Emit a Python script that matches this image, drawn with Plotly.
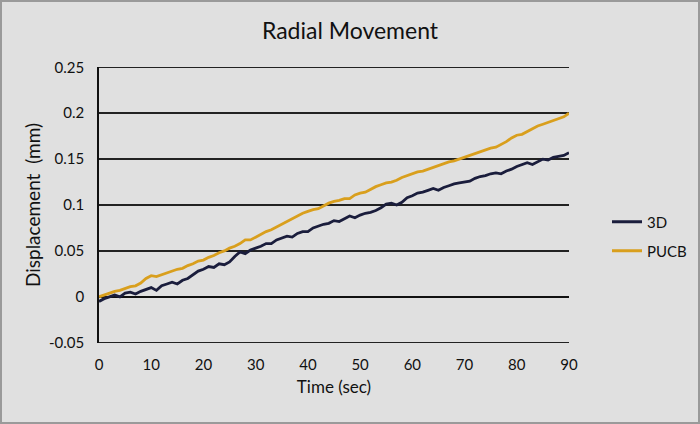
import plotly.graph_objects as go

time_sec = list(range(0, 91))

disp_3d = [-0.005, -0.002, 0.000, 0.002, 0.000, 0.004, 0.005, 0.003, 0.006, 0.008,
           0.010, 0.007, 0.012, 0.014, 0.016, 0.014, 0.018, 0.020, 0.024, 0.028,
           0.030, 0.033, 0.032, 0.036, 0.035, 0.038, 0.044, 0.049, 0.047, 0.051,
           0.053, 0.055, 0.058, 0.058, 0.062, 0.064, 0.066, 0.065, 0.069, 0.071,
           0.071, 0.075, 0.077, 0.079, 0.080, 0.083, 0.082, 0.085, 0.088, 0.086,
           0.089, 0.091, 0.092, 0.094, 0.097, 0.101, 0.102, 0.100, 0.103, 0.108,
           0.110, 0.113, 0.114, 0.116, 0.118, 0.116, 0.119, 0.121, 0.123, 0.124,
           0.125, 0.126, 0.129, 0.131, 0.132, 0.134, 0.135, 0.134, 0.137, 0.139,
           0.142, 0.144, 0.146, 0.144, 0.147, 0.150, 0.149, 0.152, 0.153, 0.154,
           0.157]

disp_pucb = [0.000, 0.002, 0.004, 0.006, 0.007, 0.009, 0.011, 0.012, 0.015, 0.020,
             0.023, 0.022, 0.024, 0.026, 0.028, 0.030, 0.031, 0.034, 0.036, 0.039,
             0.040, 0.043, 0.045, 0.048, 0.050, 0.053, 0.055, 0.058, 0.062, 0.062,
             0.065, 0.068, 0.071, 0.073, 0.076, 0.079, 0.082, 0.085, 0.088, 0.091,
             0.093, 0.095, 0.096, 0.099, 0.102, 0.104, 0.105, 0.107, 0.107, 0.111,
             0.113, 0.114, 0.117, 0.120, 0.122, 0.124, 0.125, 0.127, 0.130, 0.132,
             0.134, 0.136, 0.137, 0.139, 0.141, 0.143, 0.145, 0.147, 0.148, 0.150,
             0.152, 0.154, 0.156, 0.158, 0.160, 0.162, 0.163, 0.166, 0.169, 0.173,
             0.176, 0.177, 0.180, 0.183, 0.186, 0.188, 0.190, 0.192, 0.194, 0.196,
             0.200]

x_ticks = [0, 10, 20, 30, 40, 50, 60, 70, 80, 90]
y_ticks = [-0.05, 0, 0.05, 0.1, 0.15, 0.2, 0.25]
y_tick_labels = ["-0.05", "0", "0.05", "0.1", "0.15", "0.2", "0.25"]

BG = "#e0e0e0"
FONT = "Lato"

fig = go.Figure()
fig.add_trace(go.Scatter(x=time_sec, y=disp_3d, mode="lines", name="3D",
                         line=dict(color="#1a1d3c", width=2.8), legend="legend"))
fig.add_trace(go.Scatter(x=time_sec, y=disp_pucb, mode="lines", name="PUCB",
                         line=dict(color="#d99f1d", width=2.8), legend="legend2"))

W, H = 700, 424
L, R, T, B = 99, 131, 67, 81
pw, ph = W - L - R, H - T - B

def px_x(p):
    return (p - L) / pw

def px_y(p):
    return (H - B - p) / ph

edge_lines = [dict(type="line", xref="paper", yref="y", x0=0, x1=1, y0=v, y1=v,
                   line=dict(color="#222222", width=1.5), layer="below")
              for v in (y_ticks[0], y_ticks[-1])]

fig.update_layout(
    width=W, height=H,
    margin=dict(l=L, r=R, t=T, b=B, autoexpand=False),
    paper_bgcolor=BG, plot_bgcolor=BG,
    showlegend=True,
    font=dict(family=FONT, size=15, color="#111111"),
    title=dict(text="Radial Movement", x=px_x(350), xanchor="center", xref="paper",
               y=1 - 31 / H, yanchor="middle", font=dict(size=23, color="#111111")),
    xaxis=dict(range=[0, 90], tickvals=x_ticks, showgrid=False, zeroline=False,
               showline=False, ticks="", tickfont=dict(size=15), automargin=False,
               ticklabelstandoff=11,
               title=dict(text="Time (sec)", font=dict(size=17), standoff=9)),
    yaxis=dict(range=[-0.0503, 0.2503], tickvals=y_ticks, ticktext=y_tick_labels,
               showgrid=True, gridcolor="#222222", gridwidth=1.5,
               zeroline=True, zerolinecolor="#111111", zerolinewidth=2,
               showline=True, linecolor="#111111", linewidth=1.5,
               ticks="", tickfont=dict(size=15), automargin=False,
               ticklabelstandoff=10,
               title=dict(text="Displacement\u00a0\u00a0(mm)", font=dict(size=19), standoff=3)),
    legend=dict(x=px_x(607), y=px_y(222), xanchor="left", yanchor="middle",
                bgcolor="rgba(0,0,0,0)", font=dict(size=15)),
    legend2=dict(x=px_x(607), y=px_y(251), xanchor="left", yanchor="middle",
                 bgcolor="rgba(0,0,0,0)", font=dict(size=15)),
    shapes=[dict(type="rect", xref="paper", yref="paper",
                 x0=px_x(1), x1=px_x(699), y0=px_y(423), y1=px_y(1),
                 line=dict(color="#9a9a9a", width=2), fillcolor="rgba(0,0,0,0)",
                 layer="below")] + edge_lines,
)

fig.write_html("out.html", config={"displayModeBar": False},
               post_script="document.body.style.margin='0';")
